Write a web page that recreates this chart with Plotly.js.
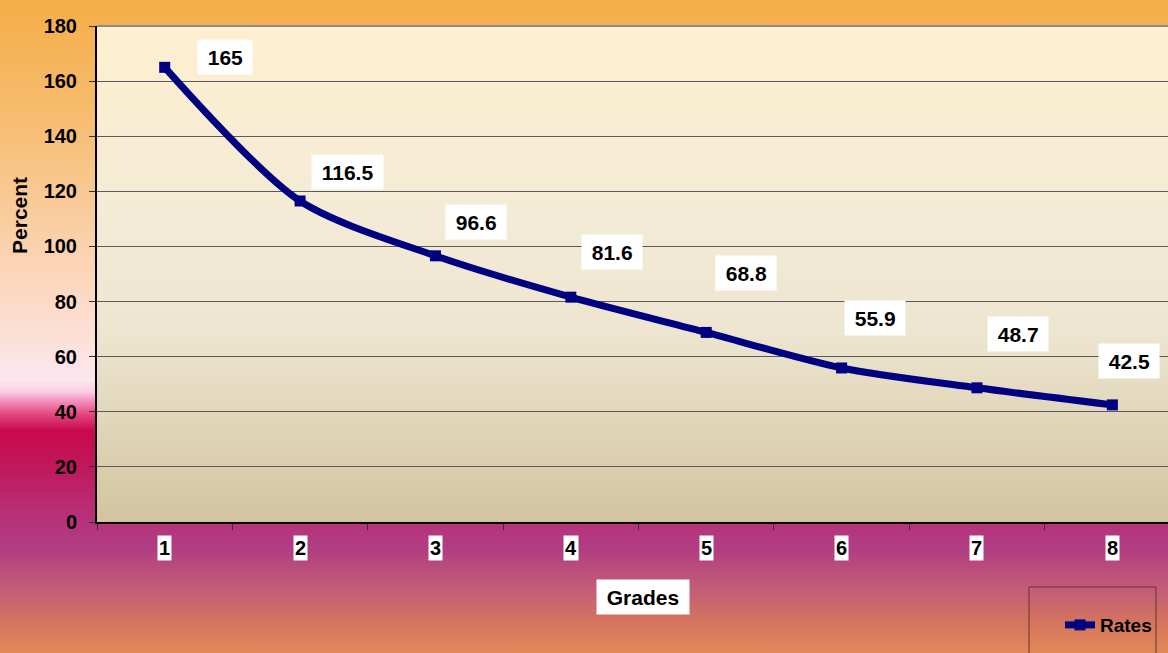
<!DOCTYPE html>
<html><head><meta charset="utf-8">
<script src="https://cdn.plot.ly/plotly-3.0.1.min.js"></script>
<style>
html,body{margin:0;padding:0;width:1168px;height:653px;overflow:hidden;}
#chart{width:1168px;height:653px;
background:linear-gradient(to bottom,#F5AD47 0%,#F7BE75 20%,#FBD4B4 40%,#FCDFD6 51%,#FCE7F0 58.3%,#FBCDE2 60%,#F58CBC 61.5%,#E2457F 63.5%,#C8094C 66%,#C1165A 71%,#B8307A 79%,#B13D82 84%,#C25C79 90%,#D3735F 95%,#E3895A 100%);}
</style></head><body><div id="chart"></div>
<script>
// Data
const grades = ['1','2','3','4','5','6','7','8'];
const rates = [165, 116.5, 96.6, 81.6, 68.8, 55.9, 48.7, 42.5];
const yTickVals = [0, 20, 40, 60, 80, 100, 120, 140, 160, 180];
const seriesName = 'Rates';
const xTitle = 'Grades';
const yTitle = 'Percent';

// Style: label offsets in pixels (right, up)
const labelShift = [[60,10],[47,29],[41,34],[41,45],[40,59],[33,50],[41,54],[17,44]];

const FONT = 'Liberation Sans, Arial, sans-serif';
const SP = '\u2009';
const navy = '#000080';

const grad = '<svg xmlns="http://www.w3.org/2000/svg" width="100" height="100" preserveAspectRatio="none"><defs><linearGradient id="g" x1="0" y1="0" x2="0" y2="1"><stop offset="0" stop-color="#FEEFD0"/><stop offset="0.4" stop-color="#F3EBD6"/><stop offset="0.62" stop-color="#EDE5D0"/><stop offset="1" stop-color="#D2C4A0"/></linearGradient></defs><rect width="100" height="100" fill="url(#g)"/></svg>';

const trace = {
  x: grades, y: rates, type: 'scatter', mode: 'lines+markers', name: seriesName,
  line: {color: navy, width: 7, shape: 'spline', smoothing: 0.8},
  marker: {symbol: 'square', size: 11, color: navy},
  hoverinfo: 'x+y'
};

const annotations = [];
rates.forEach((v, i) => {
  annotations.push({
    x: i, y: v, xref: 'x', yref: 'y', text: SP + String(v) + SP,
    showarrow: false, xanchor: 'center', yanchor: 'middle',
    xshift: labelShift[i][0], yshift: labelShift[i][1],
    bgcolor: '#ffffff', borderpad: 5.5,
    font: {family: FONT, size: 21, color: '#000', weight: 700}
  });
  annotations.push({
    x: i, y: -0.0524, xref: 'x', yref: 'paper', text: grades[i],
    showarrow: false, xanchor: 'center', yanchor: 'middle',
    bgcolor: '#ffffff', borderpad: 1,
    font: {family: FONT, size: 20, color: '#000', weight: 700}
  });
});
annotations.push({
  x: 0.5098, y: -0.1512, xref: 'paper', yref: 'paper', text: SP + xTitle + SP,
  showarrow: false, xanchor: 'center', yanchor: 'middle', bgcolor: '#ffffff', borderpad: 5.5,
  font: {family: FONT, size: 21, color: '#000', weight: 700}
});
annotations.push({
  x: -0.0719, y: 0.619, xref: 'paper', yref: 'paper', text: yTitle, textangle: -90,
  showarrow: false, xanchor: 'center', yanchor: 'middle',
  font: {family: FONT, size: 21, color: '#000', weight: 700}
});

const layout = {
  width: 1168, height: 653,
  margin: {l: 97, r: 0, t: 26, b: 131, pad: 0},
  paper_bgcolor: 'rgba(0,0,0,0)', plot_bgcolor: 'rgba(0,0,0,0)',
  showlegend: true,
  legend: {x: (1060-97)/1071, xanchor: 'left', y: (522-625)/496, yanchor: 'middle',
    bgcolor: 'rgba(0,0,0,0)', borderwidth: 0,
    font: {family: FONT, size: 19, color: '#000', weight: 700}},
  xaxis: {type: 'category', range: [-0.5, 7.411], showgrid: false, zeroline: false,
    showline: true, linecolor: '#000', linewidth: 2,
    ticks: 'outside', tickson: 'boundaries', ticklen: 6, tickcolor: '#333', tickwidth: 1,
    showticklabels: false, fixedrange: true},
  yaxis: {range: [0, 180], tickvals: yTickVals, showgrid: true, gridcolor: '#5a5a5a', gridwidth: 1,
    zeroline: false, showline: true, linecolor: '#000', linewidth: 2,
    ticks: 'outside', ticklen: 6, tickcolor: '#333', tickwidth: 1, ticklabelstandoff: 8,
    tickfont: {family: FONT, size: 20, color: '#000', weight: 700}, fixedrange: true},
  images: [{source: 'data:image/svg+xml;charset=utf-8,' + encodeURIComponent(grad),
    xref: 'paper', yref: 'paper', x: 0, y: 1, sizex: 1, sizey: 1, sizing: 'stretch',
    xanchor: 'left', yanchor: 'top', layer: 'below'}],
  shapes: [
    {type: 'line', xref: 'paper', yref: 'paper', x0: 0, x1: 1, y0: 1, y1: 1,
     line: {color: '#8a8a8a', width: 2}},
    {type: 'rect', xref: 'paper', yref: 'paper',
     x0: (1029-97)/1071, x1: (1156-97)/1071, y0: (522-587)/496, y1: (522-670)/496,
     line: {color: '#6a3030', width: 1}, fillcolor: 'rgba(0,0,0,0)'}
  ],
  annotations: annotations
};

Plotly.newPlot('chart', [trace], layout, {displayModeBar: false});
</script>
</body></html>
